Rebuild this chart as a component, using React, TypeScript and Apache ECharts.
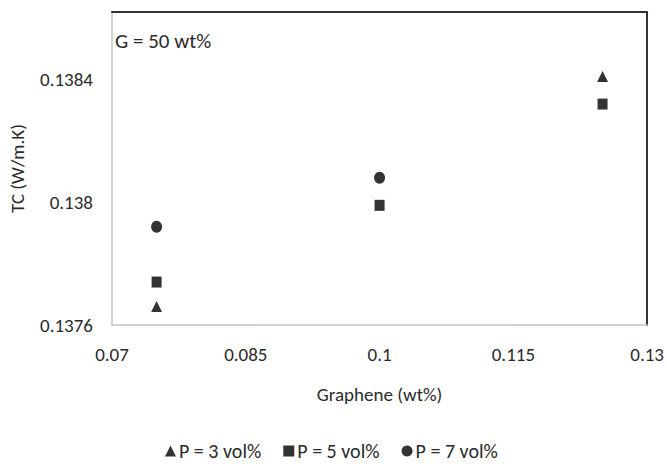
import React, { useEffect, useRef } from "react";
import * as echarts from "echarts";

const xTicks = [0.07, 0.085, 0.1, 0.115, 0.13];
const yTicks = [0.1376, 0.138, 0.1384];
const seriesNames = ["P = 3 vol%", "P = 5 vol%", "P = 7 vol%"];
const grapheneWt = [0.075, 0.1, 0.125];
const tcP3 = [0.13766, null, 0.13841];
const tcP5 = [0.13774, 0.13799, 0.13832];
const tcP7 = [0.13792, 0.13808, null];
const annotation = "G = 50 wt%";
const xName = "Graphene (wt%)";
const yName = "TC (W/m.K)";

const FONT = "Carlito, Lato, sans-serif";
const TXT = "#2b2b2b";

export default function App() {
  const ref = useRef<HTMLDivElement>(null);
  useEffect(() => {
    if (!ref.current) return;
    const chart = echarts.init(ref.current, undefined, { renderer: "svg" });
    const mk = (vals: (number | null)[]) =>
      grapheneWt.map((x, i) => (vals[i] == null ? null : [x, vals[i]]));
    const symbols = ["triangle", "rect", "circle"];
    const sizes = [[11, 11], [10, 11], [11, 12]];
    const datas = [tcP3, tcP5, tcP7];
    chart.setOption({
      animation: false,
      textStyle: { fontFamily: FONT },
      grid: { left: 107, right: 19, top: 12, bottom: 139 },
      xAxis: [
        {
          type: "value",
          min: xTicks[0],
          max: xTicks[xTicks.length - 1],
          interval: xTicks[1] - xTicks[0],
          name: xName,
          nameLocation: "middle",
          nameGap: 60,
          nameTextStyle: { fontSize: 19, color: TXT, fontFamily: FONT },
          axisLine: { lineStyle: { color: "#c4c4c4", width: 1.5 } },
          axisTick: { show: false },
          splitLine: { show: false },
          axisLabel: {
            margin: 20,
            fontSize: 19,
            color: TXT,
            fontFamily: FONT,
            formatter: (v: number) => String(Number(v.toFixed(3))),
          },
        },
        {
          type: "value",
          position: "top",
          min: xTicks[0],
          max: xTicks[xTicks.length - 1],
          axisLine: { show: true, lineStyle: { color: "#333", width: 2 } },
          axisTick: { show: false },
          axisLabel: { show: false },
          splitLine: { show: false },
        },
      ],
      yAxis: [
        {
          type: "value",
          min: yTicks[0],
          max: 0.13862,
          interval: yTicks[1] - yTicks[0],
          name: yName,
          nameLocation: "middle",
          nameGap: 85,
          nameTextStyle: { fontSize: 19, color: TXT, fontFamily: FONT },
          axisLine: { show: true, lineStyle: { color: "#c4c4c4", width: 1.5 } },
          axisTick: { show: false },
          splitLine: { show: false },
          axisLabel: {
            margin: 19,
            fontSize: 19,
            color: TXT,
            fontFamily: FONT,
            showMaxLabel: false,
            formatter: (v: number) => String(Number(v.toFixed(4))),
          },
        },
        {
          type: "value",
          position: "right",
          min: yTicks[0],
          max: 0.13862,
          axisLine: { show: true, lineStyle: { color: "#333", width: 2 } },
          axisTick: { show: false },
          axisLabel: { show: false },
          splitLine: { show: false },
        },
      ],
      legend: {
        left: 160,
        top: 436,
        itemWidth: 11,
        itemHeight: 11,
        itemGap: 22,
        textStyle: { fontSize: 20, lineHeight: 20, color: TXT, fontFamily: FONT, padding: [0, 0, 0, -2] },
        data: seriesNames.map((n, i) => ({ name: n, icon: symbols[i] })),
      },
      graphic: [
        {
          type: "text",
          left: 115,
          top: 30,
          style: { text: annotation, fontSize: 21, fill: TXT, fontFamily: FONT },
        },
      ],
      series: seriesNames.map((n, i) => ({
        name: n,
        type: "scatter",
        symbol: symbols[i],
        symbolSize: sizes[i],
        itemStyle: { color: "#000" },
        data: mk(datas[i]).filter((d) => d !== null),
      })),
    });
    return () => chart.dispose();
  }, []);
  return <div ref={ref} style={{ width: 667, height: 464, position: "absolute", left: 0, top: 0 }} />;
}
